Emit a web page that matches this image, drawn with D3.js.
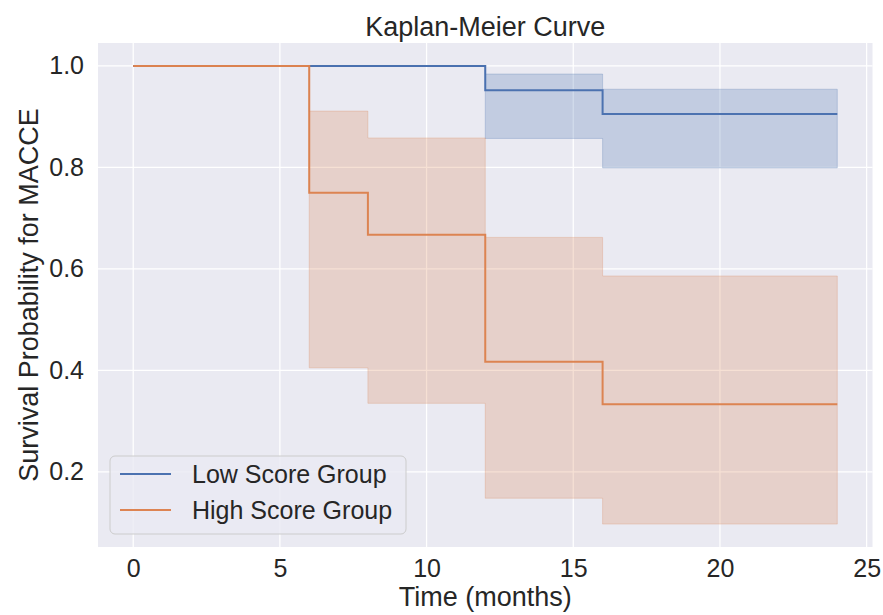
<!DOCTYPE html>
<html lang="en">
<head>
<meta charset="UTF-8">
<script src="https://d3js.org/d3.v7.min.js"></script>
<style>
  body { margin: 0; background: #fff; }
  svg { font-family: "Liberation Sans", Arial, sans-serif; }
  .tick text { fill: #262626; }
</style>
<title>Kaplan-Meier Curve</title>
</head>
<body>
<svg id="chart" width="883" height="615"></svg>
<script>
// step data (times where the estimate changes)
var lowTimes = [0, 12, 16, 24];
var lowSurv = [1.0, 0.952, 0.905, 0.905];
var lowLower = [1.0, 0.857, 0.799, 0.799];
var lowUpper = [1.0, 0.984, 0.954, 0.954];

var highTimes = [0, 6, 8, 12, 16, 24];
var highSurv = [1.0, 0.75, 0.667, 0.417, 0.333, 0.333];
var highLower = [1.0, 0.405, 0.335, 0.148, 0.097, 0.097];
var highUpper = [1.0, 0.911, 0.858, 0.662, 0.586, 0.586];

var xTicks = [0, 5, 10, 15, 20, 25];
var yTicks = [0.2, 0.4, 0.6, 0.8, 1.0];

var groups = [
  { name: "Low Score Group", color: "#4C72B0", t: lowTimes, s: lowSurv, lo: lowLower, hi: lowUpper },
  { name: "High Score Group", color: "#DD8452", t: highTimes, s: highSurv, lo: highLower, hi: highUpper }
];

var margin = { top: 43, right: 10.5, bottom: 68, left: 98 };
var W = 883, H = 615;
var w = W - margin.left - margin.right;
var h = H - margin.top - margin.bottom;

var svg = d3.select("#chart");
var g = svg.append("g").attr("transform", "translate(" + margin.left + "," + margin.top + ")");

// matplotlib style 5% margins
var allT = lowTimes.concat(highTimes);
var allY = lowLower.concat(highLower, lowUpper, highUpper);
var tMin = d3.min(allT), tMax = d3.max(allT);
var yMin = d3.min(allY), yMax = d3.max(allY);
var tPad = (tMax - tMin) * 0.05, yPad = (yMax - yMin) * 0.05;

var x = d3.scaleLinear().domain([tMin - tPad, tMax + tPad]).range([0, w]);
var y = d3.scaleLinear().domain([yMin - yPad, yMax + yPad]).range([h, 0]);

g.append("rect").attr("width", w).attr("height", h).attr("fill", "#EAEAF2");

// grid
g.append("g").selectAll("line").data(xTicks).enter().append("line")
  .attr("x1", d => x(d)).attr("x2", d => x(d))
  .attr("y1", 0).attr("y2", h)
  .attr("stroke", "#fff").attr("stroke-width", 1.25);
g.append("g").selectAll("line").data(yTicks).enter().append("line")
  .attr("y1", d => y(d)).attr("y2", d => y(d))
  .attr("x1", 0).attr("x2", w)
  .attr("stroke", "#fff").attr("stroke-width", 1.25);

// axes (no tick marks, seaborn darkgrid)
var xAxis = g.append("g").attr("transform", "translate(0," + h + ")")
  .call(d3.axisBottom(x).tickValues(xTicks).tickSize(0).tickPadding(12).tickFormat(d3.format("d")));
xAxis.select(".domain").remove();
xAxis.selectAll("text").attr("font-size", 25);

var yAxis = g.append("g")
  .call(d3.axisLeft(y).tickValues(yTicks).tickSize(0).tickPadding(14).tickFormat(d3.format(".1f")));
yAxis.select(".domain").remove();
yAxis.selectAll("text").attr("font-size", 25);

// curves
var stepLine = d3.line().curve(d3.curveStepAfter)
  .x(d => x(d[0])).y(d => y(d[1]));
var stepArea = d3.area().curve(d3.curveStepAfter)
  .x(d => x(d[0])).y0(d => y(d[1])).y1(d => y(d[2]));

groups.forEach(function (grp) {
  var pts = grp.t.map((t, i) => [t, grp.s[i]]);
  var band = grp.t.map((t, i) => [t, grp.lo[i], grp.hi[i]]);
  g.append("path").datum(pts)
    .attr("d", stepLine)
    .attr("fill", "none")
    .attr("stroke", grp.color)
    .attr("stroke-width", 2);
  g.append("path").datum(band)
    .attr("d", stepArea)
    .attr("fill", grp.color)
    .attr("fill-opacity", 0.25)
    .attr("stroke", grp.color)
    .attr("stroke-opacity", 0.25)
    .attr("stroke-width", 1);
});

// title and labels
svg.append("text")
  .attr("x", margin.left + w / 2).attr("y", 36)
  .attr("text-anchor", "middle").attr("font-size", 27).attr("fill", "#262626")
  .text("Kaplan-Meier Curve");
svg.append("text")
  .attr("x", margin.left + w / 2).attr("y", 606)
  .attr("text-anchor", "middle").attr("font-size", 27).attr("fill", "#262626")
  .text("Time (months)");
svg.append("text")
  .attr("transform", "translate(38," + (margin.top + h / 2) + ") rotate(-90)")
  .attr("text-anchor", "middle").attr("font-size", 27).attr("fill", "#262626")
  .text("Survival Probability for MACCE");

// legend
var legend = svg.append("g").attr("transform", "translate(110,456)");
legend.append("rect")
  .attr("width", 296).attr("height", 78).attr("rx", 5).attr("ry", 5)
  .attr("fill", "#EAEAF2").attr("fill-opacity", 0.8)
  .attr("stroke", "#cccccc").attr("stroke-width", 1);
groups.forEach(function (grp, i) {
  var ly = 18 + i * 36;
  legend.append("line")
    .attr("x1", 10).attr("x2", 61).attr("y1", ly).attr("y2", ly)
    .attr("stroke", grp.color).attr("stroke-width", 2);
  legend.append("text")
    .attr("x", 82).attr("y", ly).attr("dy", "0.36em")
    .attr("font-size", 25).attr("fill", "#262626")
    .text(grp.name);
});
</script>
</body>
</html>
